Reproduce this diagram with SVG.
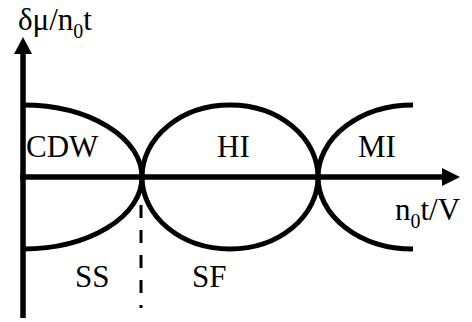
<svg xmlns="http://www.w3.org/2000/svg" width="472" height="322" viewBox="0 0 472 322">
<style>
.ax{stroke:#000;stroke-width:5.5;fill:none}
.cv{stroke:#000;stroke-width:5;fill:none}
.ds{stroke:#000;stroke-width:3;stroke-dasharray:13 12;fill:none}
.lb{font-family:'Times New Roman','Liberation Serif',serif;font-size:31px;fill:#000}
</style>
<rect width="472" height="322" fill="#fff"/>
<g id="connectors">
<line class="ax" x1="23" y1="318" x2="23" y2="52"/>
<polygon points="23,37 14,54 32,54" fill="#000"/>
<line class="ax" x1="20" y1="177" x2="443" y2="177"/>
<polygon points="460,177 442,168 442,186" fill="#000"/>
<line class="ds" x1="141" y1="180" x2="141" y2="308"/>
</g>
<g id="CDW">
<path class="cv" d="M23,105 A119,72 0 0 1 142,177 A119,72 0 0 1 23,249"/>
<text class="lb" x="26" y="157">CDW</text>
</g>
<g id="HI">
<ellipse class="cv" cx="230" cy="177" rx="88" ry="72"/>
<text class="lb" x="217" y="157">HI</text>
</g>
<g id="MI">
<path class="cv" d="M413,105 A95,72 0 0 0 318,177 A95,72 0 0 0 413,249"/>
<text class="lb" x="358" y="157">MI</text>
</g>
<g id="SS"><text class="lb" x="75" y="287">SS</text></g>
<g id="SF"><text class="lb" x="192" y="287">SF</text></g>
<g id="xlabel"><text class="lb" x="395" y="220">n<tspan font-size="20" dy="8">0</tspan><tspan dy="-8">t/V</tspan></text></g>
<g id="ylabel"><text class="lb" x="18" y="30">δμ/n<tspan font-size="20" dy="8">0</tspan><tspan dy="-8">t</tspan></text></g>
</svg>
